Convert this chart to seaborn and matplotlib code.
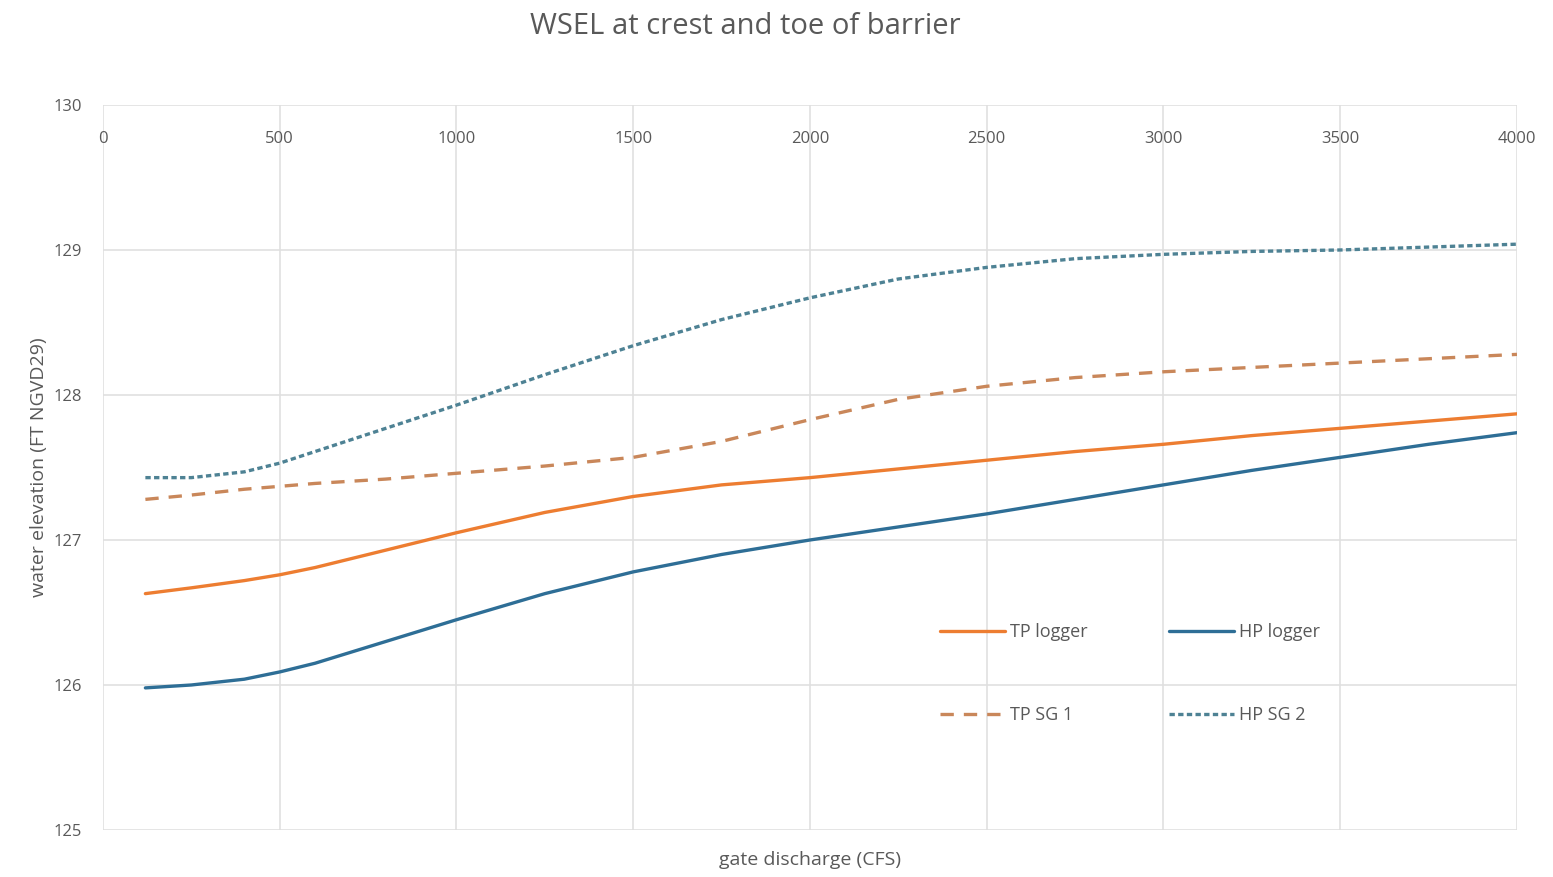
import matplotlib
matplotlib.use("Agg")
import matplotlib.pyplot as plt
import seaborn as sns
import pandas as pd

# ---- data ----
discharge = [120, 250, 400, 500, 600, 800, 1000, 1250, 1500, 1750, 2000, 2250, 2500, 2750, 3000, 3250, 3500, 3750, 4000]
tp_logger = [126.63, 126.67, 126.72, 126.76, 126.81, 126.93, 127.05, 127.19, 127.30, 127.38, 127.43, 127.49, 127.55, 127.61, 127.66, 127.72, 127.77, 127.82, 127.87]
hp_logger = [125.98, 126.00, 126.04, 126.09, 126.15, 126.30, 126.45, 126.63, 126.78, 126.90, 127.00, 127.09, 127.18, 127.28, 127.38, 127.48, 127.57, 127.66, 127.74]
tp_sg1 = [127.28, 127.31, 127.35, 127.37, 127.39, 127.42, 127.46, 127.51, 127.57, 127.68, 127.83, 127.97, 128.06, 128.12, 128.16, 128.19, 128.22, 128.25, 128.28]
hp_sg2 = [127.43, 127.43, 127.47, 127.53, 127.61, 127.77, 127.93, 128.14, 128.34, 128.52, 128.67, 128.80, 128.88, 128.94, 128.97, 128.99, 129.00, 129.02, 129.04]

x_ticks = [0, 500, 1000, 1500, 2000, 2500, 3000, 3500, 4000]
y_ticks = [125, 126, 127, 128, 129, 130]

title = "WSEL at crest and toe of barrier"
x_label = "gate discharge (CFS)"
y_label = "water elevation (FT NGVD29)"

sns.set_theme(style="white")
plt.rcParams["font.family"] = ["Open Sans", "DejaVu Sans"]

fig = plt.figure(figsize=(15.53, 8.77), dpi=100)
ax = fig.add_axes([0.0663, 0.0536, 0.9105, 0.8267])

text_color = "#595959"
grid_color = "#e0e0e0"

series = [
    ("TP logger", tp_logger, "#ED7D31", (None, None)),
    ("TP SG 1", tp_sg1, "#C9875A", (4, 3)),
    ("HP logger", hp_logger, "#2E6E96", (None, None)),
    ("HP SG 2", hp_sg2, "#4E8294", (1.6, 1.0)),
]

for name, vals, col, dash in series:
    df = pd.DataFrame({"x": discharge, "y": vals})
    line_ax = sns.lineplot(data=df, x="x", y="y", ax=ax, color=col, lw=2.4, label=name)
    ln = line_ax.get_lines()[-1]
    ln.set_solid_joinstyle("round")
    if dash[0] is not None:
        ln.set_dashes(dash)

ax.set_xlim(0, 4000)
ax.set_ylim(125, 130)
ax.set_xticks(x_ticks)
ax.set_yticks(y_ticks)
ax.grid(True, color=grid_color, lw=1.2)
for s in ax.spines.values():
    s.set_visible(False)

ax.tick_params(axis="x", top=False, bottom=False, labeltop=True, labelbottom=False,
               pad=-30, labelsize=12, labelcolor=text_color, length=0)
ax.tick_params(axis="y", left=False, labelsize=12, labelcolor=text_color, length=0, pad=15)

ax.set_xlabel(x_label, fontsize=14, color=text_color, labelpad=15)
ax.set_ylabel(y_label, fontsize=14, color=text_color, labelpad=4)
ax.xaxis.set_label_position("bottom")

fig.text(0.48, 1 - 27 / 877, title, fontsize=21, color=text_color, ha="center", va="center")

handles, labels = ax.get_legend_handles_labels()
leg = ax.legend(handles, labels, ncol=2, frameon=False, loc="center",
                bbox_to_anchor=(0.7276, 0.2315), bbox_transform=fig.transFigure,
                fontsize=13, labelspacing=3.6, columnspacing=4.5,
                handlelength=3.6, handletextpad=0.3)
for t in leg.get_texts():
    t.set_color(text_color)

fig.savefig("out.png", dpi=100)
